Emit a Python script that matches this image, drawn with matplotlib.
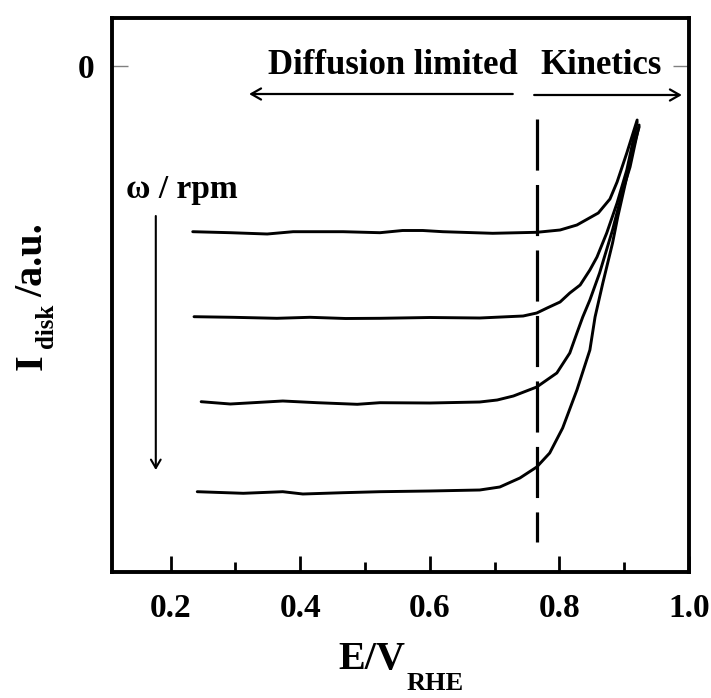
import matplotlib
matplotlib.use("Agg")
import matplotlib.pyplot as plt

plt.rcParams["font.family"] = ["Liberation Serif", "DejaVu Serif"]
plt.rcParams["font.weight"] = "bold"

# Disk current vs potential at four rotation rates (arbitrary units, 0 at top)
e1 = [0.234, 0.292, 0.349, 0.389, 0.466, 0.523, 0.558, 0.589, 0.620, 0.697,
      0.765, 0.801, 0.827, 0.860, 0.878, 0.889, 0.904, 0.920]
i1 = [-1.657, -1.667, -1.680, -1.657, -1.657, -1.667, -1.645, -1.645, -1.657,
      -1.673, -1.663, -1.640, -1.590, -1.470, -1.330, -1.160, -0.870, -0.540]

e2 = [0.236, 0.296, 0.364, 0.415, 0.470, 0.523, 0.600, 0.677, 0.744, 0.765,
      0.781, 0.801, 0.816, 0.832, 0.847, 0.858, 0.873, 0.889, 0.904, 0.920]
i2 = [-2.507, -2.513, -2.523, -2.513, -2.525, -2.523, -2.515, -2.520, -2.500,
      -2.470, -2.420, -2.360, -2.270, -2.190, -2.040, -1.910, -1.670, -1.370,
      -1.040, -0.560]

e3 = [0.247, 0.292, 0.373, 0.426, 0.488, 0.523, 0.600, 0.677, 0.704, 0.729,
      0.765, 0.796, 0.816, 0.827, 0.836, 0.847, 0.862, 0.882, 0.898, 0.909,
      0.923]
i3 = [-3.357, -3.380, -3.350, -3.367, -3.383, -3.367, -3.370, -3.360, -3.340,
      -3.300, -3.210, -3.070, -2.870, -2.670, -2.510, -2.340, -2.070, -1.640,
      -1.240, -1.010, -0.590]

e4 = [0.241, 0.312, 0.373, 0.404, 0.466, 0.523, 0.600, 0.677, 0.708, 0.739,
      0.765, 0.785, 0.805, 0.827, 0.847, 0.855, 0.867, 0.882, 0.890,
      0.904, 0.913, 0.923]
i4 = [-4.257, -4.273, -4.257, -4.280, -4.267, -4.257, -4.250, -4.240, -4.210,
      -4.120, -4.010, -3.870, -3.620, -3.240, -2.840, -2.510, -2.170, -1.770,
      -1.510, -1.110, -0.840, -0.610]

curves = [(e1, i1), (e2, i2), (e3, i3), (e4, i4)]

# Boundary between diffusion-limited and kinetic regions
e_boundary = 0.765

x_ticks = [0.2, 0.4, 0.6, 0.8, 1.0]
x_tick_labels = ["0.2", "0.4", "0.6", "0.8", "1.0"]
x_minor = [0.3, 0.5, 0.7, 0.9]

W, H = 711, 698
fig = plt.figure(figsize=(W / 100, H / 100), dpi=100)
ax = fig.add_axes([112 / W, 1 - 572 / H, (689 - 112) / W, (572 - 17.5) / H])

for e, i in curves:
    ax.plot(e, i, color="black", lw=2.1, solid_joinstyle="round",
            solid_capstyle="round")

ax.plot([e_boundary, e_boundary], [-0.53, -4.76], color="black", lw=2.3,
        dashes=(16, 4.5))

ax.set_xlim(0.1094, 1.0)
ax.set_ylim(-5.06, 0.485)

for s in ax.spines.values():
    s.set_linewidth(2.8)

ax.set_xticks(x_ticks)
ax.set_xticklabels(x_tick_labels)
ax.set_xticks(x_minor, minor=True)
ax.tick_params(axis="x", which="major", direction="in", length=11.5, width=2,
               labelsize=24, pad=15)
ax.tick_params(axis="x", which="minor", direction="in", length=7, width=2)
ax.set_yticks([0])
ax.set_yticklabels(["0"])
ax.tick_params(axis="y", which="major", direction="in", length=11.5, width=1,
               color="#808080", labelsize=24, pad=13, right=True)

arrow_kw = dict(arrowstyle="->,head_length=0.7,head_width=0.4", lw=1.6,
                color="black", shrinkA=0, shrinkB=0)
ax.annotate("", xy=(0.321, -0.28), xytext=(0.728, -0.28), arrowprops=arrow_kw)
ax.annotate("", xy=(0.989, -0.29), xytext=(0.761, -0.29), arrowprops=arrow_kw)
ax.annotate("", xy=(0.177, -4.04), xytext=(0.177, -1.50),
            arrowprops=dict(arrowstyle="->,head_length=0.6,head_width=0.35",
                            lw=1.5, color="black", shrinkA=0, shrinkB=0))

ax.text(0.735, -0.08, "Diffusion limited", fontsize=25, fontweight="bold",
        ha="right", va="baseline")
ax.text(0.771, -0.08, "Kinetics", fontsize=25, fontweight="bold",
        ha="left", va="baseline")
ax.text(0.131, -1.32, "ω / rpm", fontsize=24, fontweight="bold",
        ha="left", va="baseline")


def fig_text(px, py, s, size, rot=0):
    """Place text by its left/baseline anchor, given in pixels from top-left."""
    fig.text(px / W, 1 - py / H, s, fontsize=size, fontweight="bold",
             ha="left", va="baseline", rotation=rot, rotation_mode="anchor")


# x-axis title with subscript
fig_text(338, 669, "E/V", 29)
fig_text(407, 690, "RHE", 19)

# y-axis title with subscript, reading upward
fig_text(42, 370, "I", 29, rot=90)
fig_text(53, 348, "disk", 18, rot=90)
fig_text(42, 297, "/a.u.", 29, rot=90)

fig.savefig("out.png", dpi=100)
